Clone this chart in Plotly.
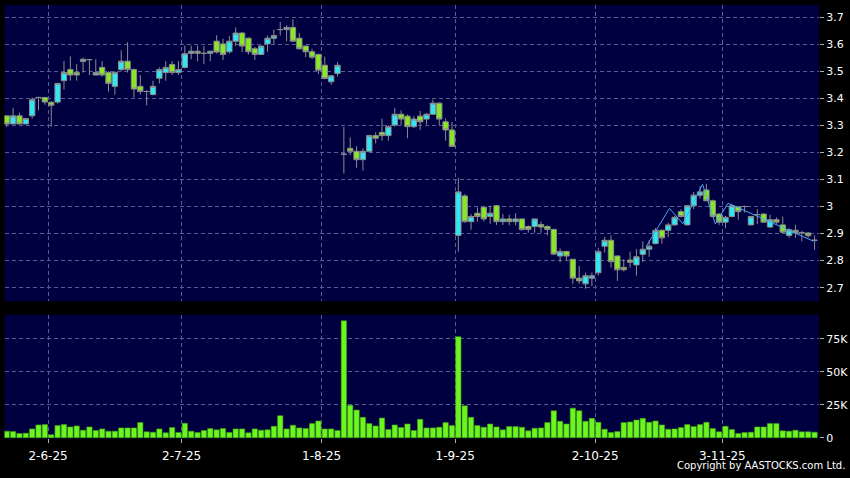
import plotly.graph_objects as go

# ---------------- data ----------------
opens = [3.335, 3.305, 3.335, 3.305, 3.335, 3.403, 3.403, 3.385, 3.386, 3.465,
         3.506, 3.495, 3.536, 3.543, 3.486, 3.514, 3.495, 3.444, 3.506, 3.537,
         3.506, 3.444, 3.425, 3.414, 3.474, 3.495, 3.525, 3.495, 3.514, 3.566,
         3.574, 3.566, 3.566, 3.611, 3.601, 3.572, 3.611, 3.641, 3.622, 3.583,
         3.562, 3.601, 3.622, 3.654, 3.654, 3.662, 3.622, 3.593, 3.572, 3.562,
         3.522, 3.461, 3.492, 3.193, 3.215, 3.204, 3.173, 3.204, 3.262, 3.274,
         3.262, 3.301, 3.341, 3.334, 3.295, 3.334, 3.323, 3.341, 3.382, 3.313,
         3.283, 2.893, 3.039, 2.944, 2.975, 2.997, 2.963, 3.003, 2.944, 2.954,
         2.944, 2.954, 2.926, 2.926, 2.933, 2.926, 2.915, 2.817, 2.834, 2.805,
         2.735, 2.714, 2.735, 2.755, 2.853, 2.875, 2.817, 2.775, 2.802, 2.784,
         2.823, 2.842, 2.863, 2.912, 2.912, 2.932, 2.981, 2.932, 3.003, 3.042,
         3.061, 3.021, 2.972, 2.942, 2.963, 2.999, 3.000, 2.932, 2.970, 2.972,
         2.924, 2.951, 2.932, 2.893, 2.912, 2.903, 2.902, 2.875]
highs = [3.335, 3.365, 3.347, 3.325, 3.403, 3.405, 3.405, 3.390, 3.455, 3.538,
         3.555, 3.526, 3.550, 3.545, 3.544, 3.537, 3.500, 3.500, 3.577, 3.607,
         3.510, 3.486, 3.430, 3.465, 3.514, 3.537, 3.537, 3.537, 3.595, 3.595,
         3.595, 3.593, 3.574, 3.633, 3.620, 3.630, 3.662, 3.645, 3.625, 3.590,
         3.595, 3.632, 3.654, 3.682, 3.670, 3.692, 3.641, 3.595, 3.583, 3.565,
         3.554, 3.486, 3.534, 3.295, 3.255, 3.223, 3.215, 3.265, 3.274, 3.325,
         3.300, 3.365, 3.355, 3.340, 3.334, 3.353, 3.345, 3.395, 3.385, 3.325,
         3.313, 3.106, 3.045, 2.972, 2.997, 3.000, 3.003, 3.005, 2.972, 2.970,
         2.975, 2.955, 2.930, 2.955, 2.944, 2.930, 2.918, 2.845, 2.835, 2.806,
         2.780, 2.755, 2.756, 2.847, 2.887, 2.893, 2.820, 2.805, 2.833, 2.842,
         2.871, 2.875, 2.920, 2.915, 2.940, 2.965, 2.990, 3.005, 3.054, 3.075,
         3.084, 3.025, 2.975, 2.965, 3.010, 3.000, 3.003, 2.965, 2.990, 2.975,
         2.970, 2.960, 2.963, 2.920, 2.932, 2.910, 2.905, 2.893]
lows = [3.295, 3.305, 3.305, 3.305, 3.325, 3.355, 3.376, 3.295, 3.380, 3.433,
        3.465, 3.465, 3.495, 3.486, 3.486, 3.480, 3.425, 3.414, 3.500, 3.495,
        3.403, 3.414, 3.374, 3.410, 3.455, 3.465, 3.486, 3.486, 3.510, 3.544,
        3.537, 3.526, 3.537, 3.565, 3.542, 3.565, 3.593, 3.571, 3.562, 3.542,
        3.560, 3.572, 3.601, 3.632, 3.611, 3.610, 3.580, 3.552, 3.545, 3.489,
        3.470, 3.450, 3.480, 3.122, 3.190, 3.143, 3.133, 3.200, 3.233, 3.243,
        3.243, 3.295, 3.301, 3.252, 3.290, 3.283, 3.303, 3.340, 3.301, 3.243,
        3.220, 2.833, 2.940, 2.914, 2.944, 2.944, 2.936, 2.932, 2.932, 2.930,
        2.930, 2.910, 2.903, 2.903, 2.903, 2.893, 2.820, 2.794, 2.800, 2.714,
        2.714, 2.696, 2.705, 2.745, 2.830, 2.774, 2.725, 2.760, 2.774, 2.744,
        2.794, 2.814, 2.860, 2.863, 2.887, 2.930, 2.960, 2.930, 2.990, 3.030,
        3.020, 2.960, 2.932, 2.920, 2.960, 2.951, 2.978, 2.930, 2.935, 2.940,
        2.920, 2.935, 2.900, 2.884, 2.884, 2.871, 2.885, 2.840]
closes = [3.305, 3.335, 3.305, 3.325, 3.395, 3.403, 3.386, 3.374, 3.455, 3.495,
          3.486, 3.486, 3.544, 3.543, 3.495, 3.486, 3.455, 3.495, 3.537, 3.506,
          3.434, 3.425, 3.425, 3.444, 3.506, 3.514, 3.495, 3.506, 3.565, 3.574,
          3.566, 3.566, 3.574, 3.571, 3.562, 3.611, 3.641, 3.593, 3.572, 3.562,
          3.593, 3.622, 3.632, 3.654, 3.662, 3.611, 3.583, 3.572, 3.552, 3.504,
          3.473, 3.483, 3.522, 3.193, 3.204, 3.173, 3.204, 3.262, 3.252, 3.262,
          3.295, 3.341, 3.323, 3.295, 3.323, 3.313, 3.341, 3.382, 3.323, 3.283,
          3.222, 3.054, 2.944, 2.963, 2.963, 2.954, 2.975, 2.944, 2.954, 2.944,
          2.954, 2.915, 2.915, 2.954, 2.924, 2.915, 2.824, 2.834, 2.817, 2.735,
          2.725, 2.744, 2.744, 2.833, 2.875, 2.796, 2.766, 2.766, 2.794, 2.814,
          2.842, 2.853, 2.912, 2.884, 2.932, 2.960, 2.963, 3.003, 3.042, 3.054,
          3.021, 2.963, 2.942, 2.960, 3.003, 2.981, 3.000, 2.963, 2.970, 2.942,
          2.951, 2.942, 2.905, 2.914, 2.903, 2.903, 2.892, 2.875]
volumes = [5000, 4750, 3250, 3500, 6750, 9750, 10000, 2250, 9250, 10000,
           8250, 9000, 5750, 8250, 5500, 6750, 5000, 5000, 7500, 7500,
           7500, 11500, 4500, 4250, 6750, 3750, 7750, 4000, 11000, 5000,
           4000, 5500, 7000, 6000, 7000, 4000, 6750, 6750, 3750, 6750,
           5750, 6000, 8750, 16750, 6750, 9500, 7500, 7000, 10750, 12750,
           6750, 6750, 5500, 88750, 24750, 21000, 15500, 10750, 9000, 15000,
           6250, 9750, 7750, 10500, 5500, 14000, 7500, 7500, 8000, 11500,
           9250, 76750, 24250, 15500, 9250, 8000, 10500, 8250, 6000, 8500,
           8500, 8000, 5250, 7250, 7500, 11500, 20500, 12500, 10500, 22500,
           20500, 12500, 14750, 11750, 6500, 4000, 4750, 11500, 12000, 13500,
           14750, 11750, 12750, 9750, 6500, 6750, 7750, 10000, 8500, 10000,
           11750, 7000, 4500, 8750, 6250, 3250, 4000, 4250, 8250, 8250,
           10750, 10750, 5250, 5000, 5750, 4500, 4500, 4250]
bar_index = list(range(len(closes)))

# thin overlay line (zig-zag) on the last weeks
line_x = [100.5, 104.2, 106.3, 109.4, 111.4, 113.4, 126.8]
line_y = [2.851, 2.993, 2.936, 3.082, 2.936, 3.012, 2.872]

# date labels: bar index of each labelled trading day
label_bars = [6, 27, 49, 70, 92, 112]
label_text = ["2-6-25", "2-7-25", "1-8-25", "1-9-25", "2-10-25", "3-11-25"]

price_ticks = [2.7, 2.8, 2.9, 3.0, 3.1, 3.2, 3.3, 3.4, 3.5, 3.6, 3.7]
price_tick_text = ["2.7", "2.8", "2.9", "3", "3.1", "3.2", "3.3", "3.4", "3.5", "3.6", "3.7"]
vol_ticks = [0, 25000, 50000, 75000]
vol_tick_text = ["0", "25K", "50K", "75K"]

# ---------------- styling ----------------
W, H = 850, 478
BG = "#000000"
PLOT_BG = "#000040"
GRID = "#5a5a96"
CYAN = "#2ee8f4"
GREEN = "#88e826"
WICK = "#8c8c8c"
VOL = "#6cf51e"
FONT = "DejaVu Sans"

grid_pos = [b + 0.5 for b in label_bars]

fig = go.Figure()
fig.add_trace(go.Candlestick(
    x=bar_index, open=opens, high=highs, low=lows, close=closes,
    increasing=dict(fillcolor=CYAN, line=dict(color=WICK, width=1)),
    decreasing=dict(fillcolor=GREEN, line=dict(color=WICK, width=1)),
    whiskerwidth=0, xaxis="x", yaxis="y", showlegend=False, hoverinfo="skip"))
fig.add_trace(go.Scatter(
    x=line_x, y=line_y, mode="lines", line=dict(color="#4aa6f0", width=1),
    xaxis="x", yaxis="y", showlegend=False, hoverinfo="skip"))
fig.add_trace(go.Bar(
    x=bar_index, y=volumes, marker=dict(color=VOL, line=dict(color="#3f9a12", width=0.6)),
    xaxis="x2", yaxis="y2", showlegend=False, hoverinfo="skip"))

xdom = [4.5 / W, 819 / W]
xr = [-0.35, 127.7]
common_x = dict(range=xr, domain=xdom, showgrid=True, gridcolor=GRID, griddash="4px,3px",
                gridwidth=1, zeroline=False, showline=False, fixedrange=True)

fig.update_layout(
    width=W, height=H, paper_bgcolor=BG, plot_bgcolor=PLOT_BG,
    margin=dict(l=0, r=0, t=0, b=0), boxgap=0.16, boxgroupgap=0, bargap=0.16,
    font=dict(family=FONT, color="#ffffff", size=11),
    xaxis=dict(**common_x, anchor="y", tickvals=grid_pos, showticklabels=False, ticks="",
               rangeslider=dict(visible=False)),
    xaxis2=dict(**common_x, anchor="y2", tickvals=grid_pos, ticktext=label_text,
                ticks="outside", ticklen=4, tickcolor="#b0b0b0", ticklabelstandoff=2,
                tickfont=dict(size=12, color="#ffffff", family=FONT)),
    yaxis=dict(domain=[1 - 305 / H, 1 - 5 / H], range=[2.650, 3.745], side="right",
               anchor="x", tickvals=price_ticks, ticktext=price_tick_text,
               ticks="outside", ticklen=4, tickcolor="#b0b0b0",
               tickfont=dict(size=11, color="#ffffff", family=FONT),
               showgrid=True, gridcolor=GRID, griddash="4px,3px", zeroline=False,
               showline=False, fixedrange=True),
    yaxis2=dict(domain=[1 - 444 / H, 1 - 319 / H], range=[-500, 93200], side="right",
                anchor="x2", tickvals=vol_ticks, ticktext=vol_tick_text,
                ticks="outside", ticklen=4, tickcolor="#b0b0b0",
                tickfont=dict(size=11, color="#ffffff", family=FONT),
                showgrid=True, gridcolor=GRID, griddash="4px,3px", zeroline=False,
                showline=False, fixedrange=True),
    annotations=[dict(text="Copyright by AASTOCKS.com Ltd.", xref="paper", yref="paper",
                      x=846 / W, y=1 - 477.5 / H, xanchor="right", yanchor="bottom",
                      borderpad=0, showarrow=False,
                      font=dict(size=10, color="#ffffff", family=FONT))],
)

fig.write_html("out.html", config={"displayModeBar": False},
               post_script="document.body.style.margin='0';document.body.style.overflow='hidden';")
